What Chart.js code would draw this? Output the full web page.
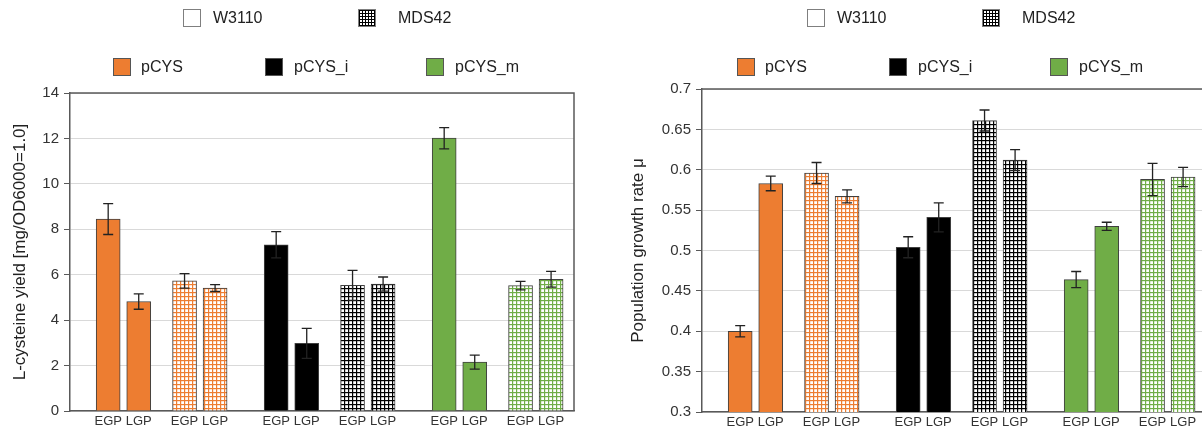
<!DOCTYPE html>
<html>
<head>
<meta charset="utf-8">
<script src="https://cdn.jsdelivr.net/npm/chart.js@4"></script>
<style>
  body { margin: 0; width: 1202px; height: 432px; overflow: hidden; background: #fff; position: relative;
         font-family: "Liberation Sans", Arial, sans-serif; }
  .wrap { position: absolute; top: 0; }
  .lg-box { position: absolute; width: 18px; height: 18px; box-sizing: border-box; border: 1px solid #555; }
  .lg-text { position: absolute; font-size: 16px; color: #222; line-height: 20px; white-space: nowrap; }
</style>
</head>
<body>
<div class="wrap" style="left:0;"><canvas id="yieldChart" width="601" height="432"></canvas></div>
<div class="wrap" style="left:601px;"><canvas id="muChart" width="620" height="432"></canvas></div>

<script>
// 数据
const phases = ['EGP', 'LGP'];
const strains = ['W3110', 'MDS42'];
const plasmids = ['pCYS', 'pCYS_i', 'pCYS_m'];

// 顺序: pCYS(W3110 EGP, LGP, MDS42 EGP, LGP), pCYS_i(...), pCYS_m(...)
const yieldMean = [8.45, 4.82, 5.73, 5.41, 7.32, 2.98, 5.53, 5.59, 12.01, 2.15, 5.52, 5.80];
const yieldErr  = [0.68, 0.34, 0.32, 0.15, 0.58, 0.66, 0.66, 0.31, 0.47, 0.31, 0.19, 0.35];
const muMean = [0.400, 0.583, 0.596, 0.567, 0.504, 0.541, 0.661, 0.612, 0.464, 0.530, 0.588, 0.591];
const muErr  = [0.007, 0.009, 0.013, 0.008, 0.013, 0.018, 0.013, 0.013, 0.010, 0.005, 0.020, 0.012];

const yieldTicks = [0, 2, 4, 6, 8, 10, 12, 14];
const muTicks = [0.3, 0.35, 0.4, 0.45, 0.5, 0.55, 0.6, 0.65, 0.7];

// 样式
const plasmidColors = ['#ED7D31', '#000000', '#70AD47'];
const FONT = '"Liberation Sans", Arial, sans-serif';

// 网格图案 (MDS42)
function gridPattern(color) {
    const c = document.createElement('canvas');
    c.width = 4; c.height = 4;
    const g = c.getContext('2d');
    g.fillStyle = color;
    g.fillRect(0, 0, 4, 4);
    g.fillStyle = '#fff';
    g.fillRect(1.2, 1.2, 2.8, 2.8);
    return g.createPattern(c, 'repeat');
}

// 槽位: 用空类别留出组间距
const slotIdx = [];
let s = 2;
plasmids.forEach(() => strains.forEach((_, si) => phases.forEach((_, hi) => {
    slotIdx.push(s);
    s += hi === 0 ? 2 : (si === 0 ? 3 : 4);
})));
const slotCount = slotIdx[slotIdx.length - 1] + 2;

function buildBars(mean, err) {
    const labels = new Array(slotCount).fill('');
    const data = new Array(slotCount).fill(null);
    const errors = new Array(slotCount).fill(null);
    const bg = new Array(slotCount).fill('#fff');
    slotIdx.forEach((k, n) => {
        const hi = n % 2, si = Math.floor(n / 2) % 2, pi = Math.floor(n / 4);
        labels[k] = phases[hi];
        data[k] = mean[n];
        errors[k] = err[n];
        bg[k] = si === 0 ? plasmidColors[pi] : gridPattern(plasmidColors[pi]);
    });
    return { labels, data, errors, bg };
}

// 误差线
const errorBarPlugin = {
    id: 'errorBars',
    afterDatasetsDraw(chart) {
        const ctx = chart.ctx;
        const y = chart.scales.y;
        chart.data.datasets.forEach((ds, di) => {
            const meta = chart.getDatasetMeta(di);
            meta.data.forEach((bar, i) => {
                const v = ds.data[i], e = ds.errors[i];
                if (v == null || e == null) return;
                const top = y.getPixelForValue(v + e);
                const bot = y.getPixelForValue(v - e);
                ctx.save();
                ctx.strokeStyle = '#222';
                ctx.lineWidth = 1.3;
                ctx.beginPath();
                ctx.moveTo(bar.x, top); ctx.lineTo(bar.x, bot);
                ctx.moveTo(bar.x - 5, top); ctx.lineTo(bar.x + 5, top);
                ctx.moveTo(bar.x - 5, bot); ctx.lineTo(bar.x + 5, bot);
                ctx.stroke();
                ctx.restore();
            });
        });
    }
};

// 图表外框 (上, 右)
const framePlugin = {
    id: 'frame',
    afterDraw(chart) {
        const { ctx, chartArea: a } = chart;
        ctx.save();
        ctx.strokeStyle = '#595959';
        ctx.lineWidth = 1.5;
        ctx.beginPath();
        ctx.moveTo(a.left, a.top); ctx.lineTo(a.right, a.top); ctx.lineTo(a.right, a.bottom);
        ctx.stroke();
        ctx.restore();
    }
};

function makeChart(id, mean, err, ticks, title, lay) {
    const b = buildBars(mean, err);
    return new Chart(document.getElementById(id), {
        type: 'bar',
        data: {
            labels: b.labels,
            datasets: [{
                data: b.data,
                errors: b.errors,
                backgroundColor: b.bg,
                borderColor: '#404040',
                borderWidth: 1,
                barThickness: 24
            }]
        },
        options: {
            responsive: false,
            devicePixelRatio: 1,
            animation: false,
            layout: { padding: lay.padding },
            plugins: { legend: { display: false }, tooltip: { enabled: false } },
            scales: {
                x: {
                    grid: { display: false, drawTicks: false },
                    border: { color: '#595959', width: 1.5 },
                    ticks: { autoSkip: false, maxRotation: 0, minRotation: 0, padding: 3,
                             color: '#333', font: { family: FONT, size: 13 } },
                    afterFit: sc => { sc.height = lay.xHeight; }
                },
                y: {
                    min: ticks[0],
                    max: ticks[ticks.length - 1],
                    ticks: { stepSize: ticks[1] - ticks[0], padding: 5, color: '#333',
                             font: { family: FONT, size: 15 },
                             callback: v => String(+v.toFixed(2)) },
                    grid: { color: '#d9d9d9', lineWidth: 1, tickColor: '#595959', tickLength: 6 },
                    border: { color: '#595959', width: 1.5 },
                    title: { display: true, text: title, color: '#222', padding: { top: 2, bottom: 0 },
                             font: { family: FONT, size: 17 } },
                    afterFit: sc => { sc.width = lay.yWidth; }
                }
            }
        },
        plugins: [errorBarPlugin, framePlugin]
    });
}

makeChart('yieldChart', yieldMean, yieldErr, yieldTicks, 'L-cysteine yield [mg/OD6000=1.0]',
    { padding: { left: 8, top: 93, right: 27, bottom: 0 }, yWidth: 62, xHeight: 21 });
makeChart('muChart', muMean, muErr, muTicks, 'Population growth rate μ',
    { padding: { left: 25, top: 89, right: 15, bottom: 0 }, yWidth: 76, xHeight: 20 });

// 图例 (HTML)
function addLegend(dx) {
    const items = [
        { text: strains[0], x: 183, y: 9, style: 'background:#fff;border-color:#7f7f7f;' },
        { text: strains[1], x: 358, y: 9, pattern: '#000' },
        { text: plasmids[0], x: 113, y: 58, style: 'background:' + plasmidColors[0] + ';' },
        { text: plasmids[1], x: 265, y: 58, style: 'background:' + plasmidColors[1] + ';' },
        { text: plasmids[2], x: 426, y: 58, style: 'background:' + plasmidColors[2] + ';' }
    ];
    const textGap = [30, 40, 28, 29, 29];
    items.forEach((it, n) => {
        const box = document.createElement('div');
        box.className = 'lg-box';
        box.style.cssText = 'left:' + (it.x + dx) + 'px;top:' + it.y + 'px;' + (it.style || '');
        if (it.pattern) {
            box.style.background = '#fff';
            box.style.backgroundImage = 'linear-gradient(#000 1px, transparent 1px), linear-gradient(90deg, #000 1px, transparent 1px)';
            box.style.backgroundSize = '3px 3px';
            box.style.borderColor = '#7f7f7f';
        }
        document.body.appendChild(box);
        const t = document.createElement('div');
        t.className = 'lg-text';
        t.textContent = it.text;
        t.style.left = (it.x + dx + textGap[n]) + 'px';
        t.style.top = (it.y - 1) + 'px';
        document.body.appendChild(t);
    });
}
addLegend(0);
addLegend(624);
</script>
</body>
</html>
